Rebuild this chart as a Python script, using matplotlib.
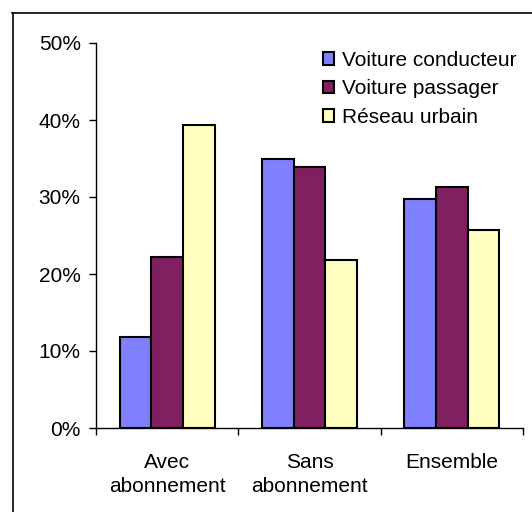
import matplotlib.pyplot as plt
import numpy as np
from matplotlib.lines import Line2D
from matplotlib.ticker import FixedLocator, PercentFormatter
from matplotlib import rcParams

rcParams['font.family'] = ['Liberation Sans', 'DejaVu Sans']

categories = ['Avec\nabonnement', 'Sans\nabonnement', 'Ensemble']
series = ['Voiture conducteur', 'Voiture passager', 'Réseau urbain']
conducteur = [11.8, 35.0, 29.8]
passager = [22.2, 33.9, 31.3]
reseau = [39.3, 21.8, 25.7]
colors = ['#8080FF', '#802060', '#FFFFC0']

fig = plt.figure(figsize=(5.32, 5.12), dpi=100)
ax = fig.add_axes([96/532, 84/512, (523-96)/532, (428-43)/512])

x = np.arange(len(categories))
w = 0.222
for i, (vals, name) in enumerate(zip([conducteur, passager, reseau], series)):
    ax.bar(x + (i - 1) * w, vals, width=w, color=colors[i], edgecolor='black',
           linewidth=1.5, label=name, zorder=3)

ax.set_xlim(-0.5, 2.5)
ax.set_ylim(0, 50)
ax.set_yticks([0, 10, 20, 30, 40, 50])
ax.yaxis.set_major_formatter(PercentFormatter(decimals=0))
ax.tick_params(axis='y', direction='out', length=5, width=1, labelsize=15, pad=6)

ax.xaxis.set_major_locator(FixedLocator([-0.5, 0.5, 1.5, 2.5]))
ax.xaxis.set_minor_locator(FixedLocator(x))
ax.set_xticklabels([], minor=False)
ax.set_xticklabels(categories, minor=True, fontsize=15, linespacing=1.3)
ax.tick_params(axis='x', which='major', direction='out', length=5, width=1)
ax.tick_params(axis='x', which='minor', length=0, pad=18)

for s in ['top', 'right']:
    ax.spines[s].set_visible(False)
for s in ['left', 'bottom']:
    ax.spines[s].set_linewidth(1)

ax.legend(loc='upper left', bbox_to_anchor=(323/532, (512-51)/512),
          bbox_transform=fig.transFigure, frameon=False, fontsize=15,
          handlelength=0.55, handleheight=0.55, handletextpad=0.35,
          labelspacing=0.45, borderpad=0, borderaxespad=0)

# outer chart frame (only left and top edges visible in the crop)
fig.add_artist(Line2D([12.5/532, 12.5/532], [0, (512-13)/512], color='black', lw=1.2,
                      transform=fig.transFigure))
fig.add_artist(Line2D([12/532, 1], [(512-13)/512, (512-13)/512], color='black', lw=1.2,
                      transform=fig.transFigure))

fig.savefig('out.png', dpi=100)
